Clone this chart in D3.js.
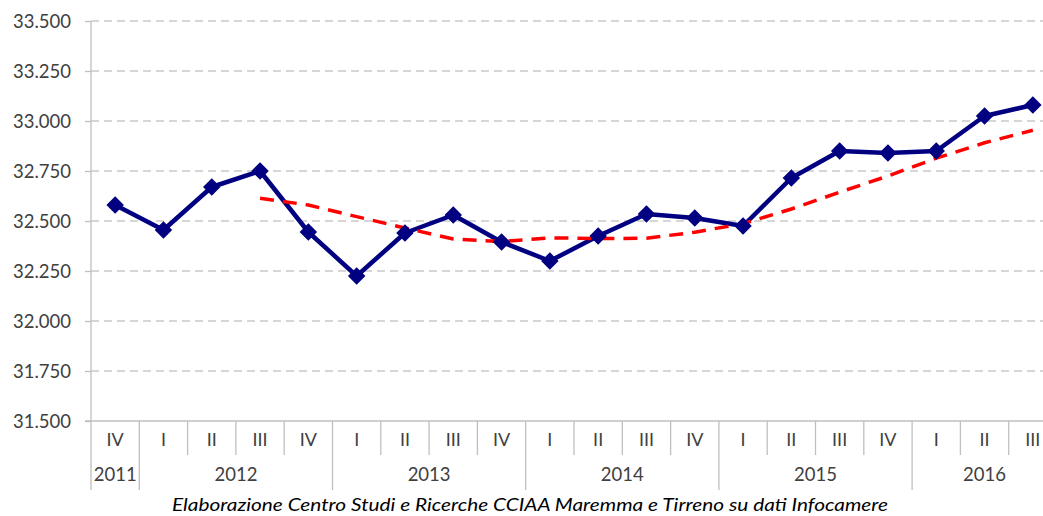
<!DOCTYPE html>
<html>
<head>
<meta charset="utf-8">
<script src="https://cdn.jsdelivr.net/npm/d3@7"></script>
<style>
  html, body { margin: 0; padding: 0; background: #fff; }
  svg { display: block; font-family: Lato, "Open Sans", sans-serif; }
</style>
</head>
<body>
<svg id="chart" width="1043" height="516"></svg>
<script>
// Quarter labels, year groups and values (imprese, in migliaia con punto)
const quarters = ["IV","I","II","III","IV","I","II","III","IV","I","II","III","IV","I","II","III","IV","I","II","III"];
const years = [
  { label: "2011", span: 1 },
  { label: "2012", span: 4 },
  { label: "2013", span: 4 },
  { label: "2014", span: 4 },
  { label: "2015", span: 4 },
  { label: "2016", span: 3 }
];
const values = [32580, 32455, 32670, 32750, 32445, 32225, 32440, 32530, 32395, 32300,
                 32425, 32535, 32515, 32475, 32715, 32850, 32840, 32850, 33025, 33080];
// trend line (dashed), starts at the 4th quarter
const trend = [null, null, null, 32614, 32580, 32522, 32465, 32410, 32397, 32416,
               32412, 32414, 32444, 32487, 32560, 32644, 32725, 32814, 32891, 32954];
const yTicks = [31500, 31750, 32000, 32250, 32500, 32750, 33000, 33250, 33500];
const caption = "Elaborazione Centro Studi e Ricerche CCIAA Maremma e Tirreno su dati Infocamere";

(function () {
  const svg = d3.select("#chart");
  // plot runs a little past the right edge of the picture, as in the original
  const left = 91, right = 1057, top = 21, bottom = 421;
  const AXIS_COLOR = "#bfbfbf", TEXT_COLOR = "#404040";

  const idx = d3.range(quarters.length);
  const x = d3.scaleBand().domain(idx).range([left, right]);
  const y = d3.scaleLinear().domain([31500, 33500]).range([bottom, top]);
  const fmt = d3.formatLocale({ decimal: ",", thousands: ".", grouping: [3], currency: ["€", ""] }).format(",.0f");

  // gridlines
  svg.append("g")
    .selectAll("line")
    .data(yTicks.filter(d => d > 31500))
    .join("line")
    .attr("x1", left).attr("x2", right)
    .attr("y1", d => y(d)).attr("y2", d => y(d))
    .attr("stroke", "#c9c9c9")
    .attr("stroke-width", 1.3)
    .attr("stroke-dasharray", "8,5");

  // y axis
  const yAxis = svg.append("g")
    .attr("transform", `translate(${left},0)`)
    .call(d3.axisLeft(y).tickValues(yTicks).tickFormat(fmt).tickSize(6).tickPadding(14));
  yAxis.select(".domain").remove();
  yAxis.selectAll(".tick line").attr("stroke", AXIS_COLOR).attr("stroke-width", 1.3);
  yAxis.selectAll(".tick text")
    .attr("fill", TEXT_COLOR).attr("font-size", "18.5px")
    .attr("font-family", "Lato, sans-serif").attr("dy", "0.36em");

  // left axis line (extends into category table)
  svg.append("line")
    .attr("x1", left).attr("x2", left).attr("y1", top).attr("y2", 490)
    .attr("stroke", AXIS_COLOR).attr("stroke-width", 1.3);

  // x axis line
  svg.append("line")
    .attr("x1", left - 6).attr("x2", right).attr("y1", bottom).attr("y2", bottom)
    .attr("stroke", AXIS_COLOR).attr("stroke-width", 1.3);

  // quarter separators & labels
  const gx = svg.append("g");
  gx.selectAll("line.q")
    .data(idx.slice(1))
    .join("line")
    .attr("class", "q")
    .attr("x1", d => x(d)).attr("x2", d => x(d))
    .attr("y1", bottom).attr("y2", 455)
    .attr("stroke", AXIS_COLOR).attr("stroke-width", 1.3);
  gx.selectAll("text.q")
    .data(idx)
    .join("text")
    .attr("class", "q")
    .attr("x", d => x(d) + x.bandwidth() / 2)
    .attr("y", 446)
    .attr("text-anchor", "middle")
    .attr("fill", TEXT_COLOR).attr("font-size", "18px")
    .text(d => quarters[d]);

  // year groups
  let start = 0;
  const yearPos = years.map(yr => {
    const p = { label: yr.label, s: start, e: start + yr.span };
    start += yr.span;
    return p;
  });
  gx.selectAll("line.y")
    .data(yearPos.slice(1))
    .join("line")
    .attr("class", "y")
    .attr("x1", d => x(d.s)).attr("x2", d => x(d.s))
    .attr("y1", 455).attr("y2", 490)
    .attr("stroke", AXIS_COLOR).attr("stroke-width", 1.3);
  gx.selectAll("text.y")
    .data(yearPos)
    .join("text")
    .attr("class", "y")
    .attr("x", d => (x(d.s) + (d.e < quarters.length ? x(d.e) : right)) / 2)
    .attr("y", 481)
    .attr("text-anchor", "middle")
    .attr("fill", TEXT_COLOR).attr("font-size", "18.5px")
    .text(d => d.label);

  const cx = i => x(i) + x.bandwidth() / 2;

  // main series
  svg.append("path")
    .datum(idx)
    .attr("fill", "none")
    .attr("stroke", "#000080")
    .attr("stroke-width", 4.5)
    .attr("stroke-linejoin", "round")
    .attr("d", d3.line().x(cx).y(i => y(values[i])));

  // trend (dashed red)
  svg.append("path")
    .datum(idx.filter(i => trend[i] != null))
    .attr("fill", "none")
    .attr("stroke", "#ff0000")
    .attr("stroke-width", 3.5)
    .attr("stroke-dasharray", "14,9")
    .attr("d", d3.line().x(cx).y(i => y(trend[i])));

  // diamond markers
  svg.append("g")
    .selectAll("path")
    .data(idx)
    .join("path")
    .attr("transform", i => `translate(${cx(i)},${y(values[i])})`)
    .attr("d", d3.symbol(d3.symbolDiamond2, 150)())
    .attr("fill", "#000080")
    .attr("stroke", "#000080")
    .attr("stroke-width", 1.5);

  // source caption
  svg.append("text")
    .attr("x", 530).attr("y", 511)
    .attr("text-anchor", "middle")
    .attr("font-style", "italic")
    .attr("fill", "#000")
    .attr("font-size", "18px")
    .attr("textLength", 716)
    .attr("lengthAdjust", "spacingAndGlyphs")
    .text(caption);
})();
</script>
</body>
</html>
